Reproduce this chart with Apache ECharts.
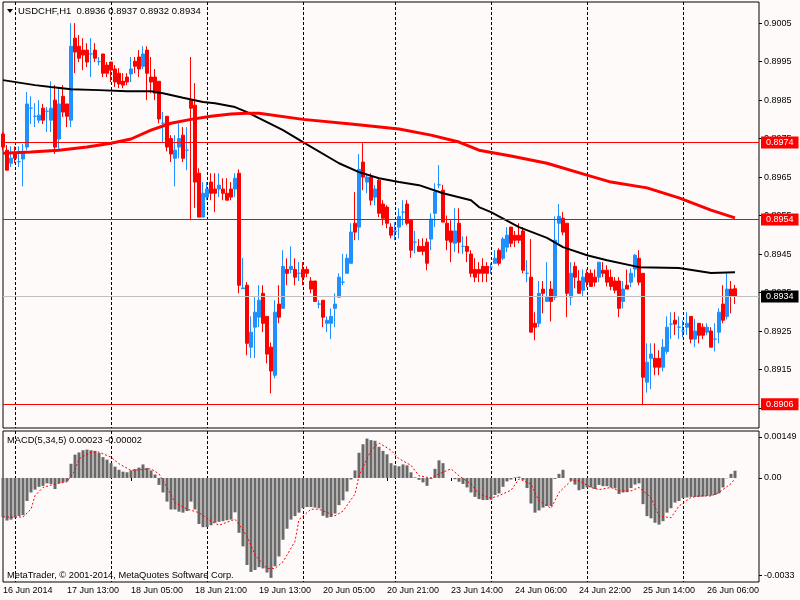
<!DOCTYPE html>
<html>
<head>
<meta charset="utf-8">
<title>USDCHF,H1</title>
<script src="https://cdn.jsdelivr.net/npm/echarts@6.0.0/dist/echarts.min.js"></script>
<style>
html, body { margin: 0; padding: 0; background: #fffafa; }
#main { width: 800px; height: 600px; }
</style>
</head>
<body>
<div id="main"></div>
<script>
var myChart = echarts.init(document.getElementById('main'));

// time axis: one label every 16 bars, dotted day separators
var tickLabels = ['16 Jun 2014', '17 Jun 13:00', '18 Jun 05:00', '18 Jun 21:00', '19 Jun 13:00', '20 Jun 05:00',
    '20 Jun 21:00', '23 Jun 14:00', '24 Jun 06:00', '24 Jun 22:00', '25 Jun 14:00', '26 Jun 06:00'];
var dayLines = [3, 27, 51, 75, 98, 122, 146, 170];

// USDCHF H1 bars
var opens = [
    0.89762, 0.8972, 0.89686, 0.89712, 0.8969, 0.89697, 0.89728, 0.89829, 0.89808, 0.89798,
    0.89829, 0.89821, 0.89798, 0.8985, 0.89749, 0.8986, 0.8984, 0.89798, 0.90011, 0.8999,
    0.8998, 0.8998, 0.8997, 0.8998, 0.8995, 0.8997, 0.89941, 0.89949, 0.89931, 0.8992,
    0.89899, 0.8991, 0.89918, 0.89951, 0.89962, 0.89938, 0.8998, 0.8991, 0.8991, 0.89899,
    0.8979, 0.89808, 0.8975, 0.89699, 0.89728, 0.89759, 0.8972, 0.8985, 0.89837, 0.8966,
    0.89546, 0.89598, 0.89637, 0.89619, 0.89619, 0.89619, 0.89608, 0.89619, 0.89619, 0.8966,
    0.8936, 0.89369, 0.89208, 0.8926, 0.89286, 0.89348, 0.89288, 0.89208, 0.89135, 0.8932,
    0.89309, 0.8941, 0.8941, 0.8941, 0.894, 0.8941, 0.8941, 0.8938, 0.8938, 0.8932,
    0.8933, 0.8927, 0.8927, 0.89309, 0.89338, 0.89377, 0.894, 0.89426, 0.8953, 0.8952,
    0.89689, 0.89637, 0.8965, 0.89598, 0.89642, 0.8958, 0.89572, 0.8952, 0.89508, 0.8952,
    0.89559, 0.8958, 0.89538, 0.89481, 0.8947, 0.8947, 0.89481, 0.89489, 0.89556, 0.8963,
    0.89616, 0.8953, 0.8951, 0.89478, 0.8953, 0.8947, 0.8947, 0.8945, 0.8941, 0.8941,
    0.89418, 0.89418, 0.89416, 0.89426, 0.8946, 0.89439, 0.89468, 0.8952, 0.89499, 0.89499,
    0.8951, 0.894, 0.8939, 0.8927, 0.8927, 0.89359, 0.89327, 0.89359, 0.89338, 0.8953,
    0.89543, 0.8953, 0.89338, 0.89418, 0.8938, 0.89356, 0.894, 0.894, 0.8939, 0.8939,
    0.89408, 0.89408, 0.8939, 0.8938, 0.8938, 0.89327, 0.89369, 0.89377, 0.89411, 0.89439,
    0.894, 0.89117, 0.89179, 0.89179, 0.89179, 0.89156, 0.89197, 0.89268, 0.89278, 0.8926,
    0.8925, 0.8926, 0.89288, 0.89229, 0.8927, 0.8926, 0.89247, 0.8925, 0.89229, 0.89247,
    0.8932, 0.89288, 0.89359, 0.8936
];
var highs = [
    0.89767, 0.89733, 0.8973, 0.8973, 0.8973, 0.89736, 0.89871, 0.8986, 0.89842, 0.8985,
    0.8984, 0.89832, 0.89899, 0.89889, 0.89881, 0.89889, 0.8984, 0.9005, 0.9005, 0.90019,
    0.90011, 0.89998, 0.90011, 0.89998, 0.89962, 0.8997, 0.89949, 0.89949, 0.89941, 0.89933,
    0.8992, 0.8992, 0.89962, 0.89962, 0.8998, 0.8999, 0.8999, 0.89962, 0.89931, 0.89899,
    0.89819, 0.89808, 0.89759, 0.89759, 0.8979, 0.8978, 0.8978, 0.89962, 0.89894, 0.89673,
    0.89637, 0.89637, 0.8966, 0.8966, 0.8966, 0.89647, 0.89647, 0.89637, 0.8966, 0.8967,
    0.8944, 0.89377, 0.89288, 0.89338, 0.89369, 0.89369, 0.89288, 0.8922, 0.8933, 0.89369,
    0.8946, 0.89439, 0.8947, 0.89439, 0.89429, 0.89429, 0.89418, 0.8939, 0.8938, 0.8933,
    0.8933, 0.89288, 0.89309, 0.89348, 0.894, 0.8945, 0.8945, 0.8953, 0.89611, 0.8971,
    0.89738, 0.8966, 0.8966, 0.89629, 0.8965, 0.8959, 0.89577, 0.8953, 0.89533, 0.89569,
    0.8959, 0.8959, 0.8954, 0.8951, 0.89489, 0.89491, 0.89491, 0.89556, 0.89634, 0.89681,
    0.8963, 0.8955, 0.89538, 0.89569, 0.89569, 0.89496, 0.89496, 0.8946, 0.89439, 0.89429,
    0.89439, 0.89429, 0.89426, 0.8946, 0.89465, 0.89494, 0.8952, 0.8952, 0.8951, 0.8953,
    0.8952, 0.89434, 0.89489, 0.89299, 0.8938, 0.8938, 0.89429, 0.8938, 0.89548, 0.8958,
    0.89559, 0.8953, 0.89429, 0.89429, 0.89408, 0.8941, 0.8941, 0.8941, 0.8941, 0.89429,
    0.89429, 0.89421, 0.8941, 0.8939, 0.8939, 0.8938, 0.8941, 0.89413, 0.8945, 0.8946,
    0.894, 0.89218, 0.89218, 0.89218, 0.892, 0.89229, 0.89288, 0.89299, 0.89299, 0.89288,
    0.89278, 0.89299, 0.89288, 0.89281, 0.8927, 0.8927, 0.8927, 0.8926, 0.8927, 0.89309,
    0.89369, 0.894, 0.8938, 0.8937
];
var lows = [
    0.8972, 0.89668, 0.89676, 0.89686, 0.89676, 0.89626, 0.8972, 0.89788, 0.8978, 0.8979,
    0.89788, 0.89767, 0.89767, 0.8971, 0.8972, 0.89806, 0.8978, 0.8978, 0.8992, 0.89949,
    0.89928, 0.89936, 0.8991, 0.89949, 0.8994, 0.8991, 0.8991, 0.89897, 0.89884, 0.89881,
    0.89881, 0.89889, 0.89897, 0.8992, 0.8991, 0.89931, 0.8985, 0.89868, 0.8985, 0.8979,
    0.8974, 0.89717, 0.89689, 0.89626, 0.89699, 0.89689, 0.89668, 0.89538, 0.8957, 0.89546,
    0.89546, 0.8959, 0.8959, 0.89559, 0.89598, 0.8959, 0.8959, 0.8959, 0.89598, 0.89348,
    0.8936, 0.89187, 0.8918, 0.8918, 0.8926, 0.89247, 0.89166, 0.89088, 0.89127, 0.8927,
    0.89309, 0.89369, 0.894, 0.89369, 0.8938, 0.89369, 0.8939, 0.89348, 0.89327, 0.89309,
    0.8926, 0.89247, 0.89229, 0.8926, 0.89338, 0.89369, 0.894, 0.89426, 0.89486, 0.89486,
    0.89616, 0.89608, 0.89577, 0.89577, 0.89546, 0.89525, 0.89517, 0.89491, 0.89486, 0.89491,
    0.89525, 0.89525, 0.8944, 0.89452, 0.89457, 0.89447, 0.89408, 0.8946, 0.8952, 0.89621,
    0.89533, 0.8946, 0.89429, 0.89455, 0.89452, 0.8945, 0.89429, 0.8939, 0.89377, 0.89377,
    0.89377, 0.89377, 0.89398, 0.89426, 0.8942, 0.89434, 0.89455, 0.89468, 0.89468, 0.89478,
    0.894, 0.89377, 0.89247, 0.89226, 0.8926, 0.89296, 0.89327, 0.89275, 0.8933, 0.89478,
    0.89499, 0.89286, 0.89317, 0.89361, 0.89348, 0.8934, 0.89364, 0.89366, 0.89366, 0.89377,
    0.8939, 0.89366, 0.89356, 0.89348, 0.89286, 0.89309, 0.89359, 0.89364, 0.8939, 0.89369,
    0.89057, 0.8909, 0.89099, 0.89135, 0.89135, 0.89145, 0.8919, 0.89229, 0.8924, 0.89229,
    0.89234, 0.8924, 0.89218, 0.89208, 0.89218, 0.89229, 0.89239, 0.89208, 0.89197, 0.89218,
    0.8927, 0.8928, 0.89296, 0.8932
];
var closes = [
    0.89728, 0.89668, 0.89699, 0.89699, 0.8969, 0.89712, 0.8984, 0.89829, 0.89808, 0.89811,
    0.89798, 0.89821, 0.89829, 0.89728, 0.8984, 0.89819, 0.89808, 0.8999, 0.89975, 0.89959,
    0.89967, 0.89949, 0.8997, 0.89959, 0.8995, 0.8992, 0.8992, 0.89928, 0.89897, 0.89892,
    0.89889, 0.89897, 0.89931, 0.89938, 0.89931, 0.8997, 0.8992, 0.89897, 0.89868, 0.89801,
    0.8979, 0.89728, 0.8971, 0.8972, 0.8975, 0.89699, 0.8972, 0.89829, 0.89637, 0.89546,
    0.89608, 0.89619, 0.89608, 0.89608, 0.89629, 0.89608, 0.8959, 0.89598, 0.89647, 0.89369,
    0.89362, 0.89218, 0.89247, 0.89299, 0.8933, 0.8927, 0.8919, 0.89146, 0.89299, 0.89286,
    0.89418, 0.894, 0.89418, 0.8939, 0.894, 0.8939, 0.894, 0.89359, 0.89327, 0.8932,
    0.89286, 0.89278, 0.89288, 0.8932, 0.8939, 0.89377, 0.89439, 0.89507, 0.89507, 0.8967,
    0.8965, 0.8965, 0.8959, 0.89619, 0.89556, 0.89543, 0.8953, 0.89499, 0.8951, 0.89548,
    0.89559, 0.8953, 0.8946, 0.89481, 0.89457, 0.89457, 0.89426, 0.89541, 0.89611, 0.8963,
    0.89533, 0.89486, 0.89481, 0.8951, 0.89481, 0.8947, 0.89457, 0.894, 0.8939, 0.894,
    0.894, 0.894, 0.89416, 0.89439, 0.89426, 0.89489, 0.89499, 0.89478, 0.89486, 0.89486,
    0.89408, 0.894, 0.89247, 0.8926, 0.89348, 0.89348, 0.89338, 0.89327, 0.89486, 0.89548,
    0.89507, 0.89348, 0.894, 0.8939, 0.89348, 0.8939, 0.89377, 0.89366, 0.89377, 0.89429,
    0.894, 0.89377, 0.89366, 0.89356, 0.89309, 0.89359, 0.89359, 0.894, 0.89447, 0.89377,
    0.8913, 0.89169, 0.8919, 0.89156, 0.89156, 0.89208, 0.8926, 0.89268, 0.89268, 0.8926,
    0.8925, 0.8927, 0.89229, 0.8925, 0.89239, 0.89239, 0.8926, 0.89208, 0.89229, 0.89299,
    0.89278, 0.89359, 0.8934, 0.8934
];

// moving averages, read as [bar, value]
var maBlack = [[0, 0.89902], [8, 0.89889], [12, 0.89884], [17, 0.89878], [24, 0.89876], [31, 0.89873],
    [37, 0.89873], [40, 0.89868], [45, 0.89856], [50, 0.89845], [53, 0.89842], [58, 0.89832],
    [61, 0.89819], [64, 0.89803], [70, 0.89772], [75, 0.89741], [84, 0.89686], [89, 0.89663],
    [94, 0.89647], [99, 0.89637], [104, 0.89629], [110, 0.89608], [117, 0.8959], [119, 0.89572],
    [122, 0.89559], [129, 0.8952], [136, 0.89492], [140, 0.89468], [146, 0.89447], [151, 0.89434],
    [159, 0.89416], [169, 0.89414], [177, 0.89401], [183, 0.89403]];
var maRed = [[0, 0.89712], [7, 0.89715], [14, 0.8972], [21, 0.89728], [27, 0.89738], [32, 0.89749],
    [37, 0.89772], [42, 0.8979], [47, 0.898], [52, 0.89808], [57, 0.89814], [61, 0.89816],
    [64, 0.89816], [75, 0.898], [87, 0.89788], [99, 0.89775], [107, 0.89759], [114, 0.89741],
    [119, 0.8972], [127, 0.89705], [136, 0.89686], [146, 0.89655], [152, 0.89637], [161, 0.89622],
    [169, 0.89596], [177, 0.89564], [183, 0.89544]];

// MACD(5,34,5)
var macd = [
    -0.00124, -0.00135, -0.00132, -0.00126, -0.00121, -0.00118, -0.00073, -0.00046, -0.00037, -0.00028,
    -0.00025, -0.00017, -0.00019, -0.00035, -0.00017, -0.00014, -0.00011, 0.00045, 0.00074, 0.00081,
    0.00088, 0.0009, 0.00088, 0.00086, 0.00079, 0.00066, 0.00058, 0.00047, 0.00036, 0.00026,
    0.0002, 0.00018, 0.00024, 0.00028, 0.00033, 0.00043, 0.00032, 0.00024, 0.00011, -0.00022,
    -0.00046, -0.00075, -0.001, -0.001, -0.00107, -0.0011, -0.00105, -0.00075, -0.001, -0.00146,
    -0.00156, -0.00156, -0.0015, -0.00142, -0.00139, -0.00137, -0.00134, -0.00132, -0.00109, -0.00174,
    -0.00217, -0.00276, -0.00298, -0.00292, -0.00283, -0.00287, -0.003, -0.00317, -0.0028, -0.00249,
    -0.00196, -0.00161, -0.00132, -0.00121, -0.0011, -0.00096, -0.00092, -0.00092, -0.00094, -0.00096,
    -0.0012, -0.00126, -0.00124, -0.00113, -0.00086, -0.00071, -0.00043, -0.00005, 0.00024, 0.0008,
    0.00107, 0.00125, 0.0012, 0.00118, 0.00099, 0.00086, 0.00075, 0.00047, 0.0004, 0.00037,
    0.00043, 0.0004, 0.00018, 0.00002, -0.00006, -0.00014, -0.00025, -0.00003, 0.00029, 0.00056,
    0.00047, 0, 0, -0.00004, -0.00012, -0.00019, -0.0003, -0.00046, -0.0006, -0.00067,
    -0.0007, -0.0007, -0.00069, -0.00054, -0.00049, -0.00028, -0.00011, -0.00005, 0.00002, 0.00004,
    -0.00006, -0.00032, -0.00081, -0.0011, -0.00103, -0.00094, -0.00089, -0.00089, -0.00003, 0.00013,
    0.00026, 0, -0.00009, -0.00021, -0.00039, -0.00035, -0.0003, -0.0003, -0.00035, -0.00022,
    -0.00026, -0.00026, -0.0003, -0.00033, -0.00051, -0.00046, -0.00045, -0.00032, -0.00021, -0.00017,
    -0.00083, -0.00121, -0.00128, -0.00142, -0.00148, -0.00137, -0.0011, -0.00096, -0.00078, -0.00073,
    -0.00064, -0.00062, -0.0006, -0.0006, -0.0006, -0.00059, -0.00057, -0.00056, -0.00054, -0.00049,
    -0.0003, -0.00001, 0.00013, 0.00023
];
var signal = [[0, -0.00124], [5, -0.00124], [7, -0.00099], [8, -0.00056], [10, -0.0003], [13, -0.00019],
    [16, -0.00012], [18, 0.00024], [19, 0.00061], [22, 0.00082], [24, 0.00082], [27, 0.00066],
    [29, 0.00045], [32, 0.00024], [34, 0.00026], [37, 0.00029], [39, 0.00013], [41, -0.0003],
    [43, -0.00078], [46, -0.00099], [49, -0.0011], [52, -0.00137], [54, -0.0015], [58, -0.00131],
    [59, -0.00147], [61, -0.00185], [63, -0.00244], [66, -0.00287], [68, -0.00287], [70, -0.00266],
    [73, -0.00201], [74, -0.00132], [77, -0.00099], [79, -0.00099], [83, -0.0012], [85, -0.00105],
    [88, -0.00051], [89, 0.00007], [92, 0.00088], [94, 0.00111], [97, 0.00088], [99, 0.00061],
    [102, 0.0004], [104, 0.00007], [107, 0], [109, 0.00013], [112, 0.00029], [114, 0.00007],
    [117, -0.00019], [119, -0.00051], [122, -0.00064], [124, -0.00056], [127, -0.00039], [129, -0.00003],
    [132, -0.00019], [134, -0.00073], [137, -0.00096], [139, -0.00046], [142, -0.00009], [144, -0.00009],
    [147, -0.0003], [149, -0.00037], [152, -0.0003], [154, -0.00041], [157, -0.00041], [159, -0.0003],
    [162, -0.00062], [164, -0.00121], [167, -0.00126], [169, -0.00089], [172, -0.00062], [174, -0.00057],
    [177, -0.00057], [179, -0.00046], [182, -0.00018], [183, -0.00002]];

// horizontal levels and axis marks
var redLevels = [0.8974, 0.8954, 0.8906];
var bidLevel = 0.8934;
var priceTicks = [0.9005, 0.8995, 0.8985, 0.8975, 0.8965, 0.8955, 0.8945, 0.8935, 0.8925, 0.8915, 0.8905];
// MACD scale runs 0.00149 .. -0.0033; MetaTrader writes the end labels just inside the panel
var macdTickPos = [0.0013, 0, -0.00308];
var macdTickLabels = ['0.00149', '0.00', '-0.0033'];

var slots = 190; // bars plus empty space on the right
var cats = [];
for (var k = 0; k < slots; k++) cats.push(String(k));

var candles = [];
for (var k = 0; k < opens.length; k++) {
    candles.push([opens[k], closes[k], lows[k], highs[k]]);
}

var FONT = 'Liberation Sans, Arial, sans-serif';
var dotted = {color: '#000', width: 1, type: [3, 2]};

function isDayLine(i) {
    return dayLines.indexOf(i) >= 0;
}

var levelLines = redLevels.map(function (v) {
    return {yAxis: v, lineStyle: {color: '#ff0000'}, label: {backgroundColor: '#ff0000', color: '#fff'}};
});
levelLines.push({yAxis: bidLevel, lineStyle: {color: '#c0c0c0'}, label: {backgroundColor: '#000', color: '#fff'}});

var option = {
    backgroundColor: '#fffafa',
    animation: false,
    grid: [
        {left: 3, right: 41, top: 2, height: 426, show: true, borderColor: '#000', borderWidth: 1},
        {left: 3, right: 41, top: 431, height: 151, show: true, borderColor: '#000', borderWidth: 1}
    ],
    xAxis: [
        {
            type: 'category', gridIndex: 0, data: cats, boundaryGap: false,
            axisLine: {show: false}, axisTick: {show: false}, axisLabel: {show: false},
            splitLine: {show: true, interval: isDayLine, lineStyle: dotted}
        },
        {
            type: 'category', gridIndex: 1, data: cats, boundaryGap: false,
            axisLine: {show: false},
            axisTick: {show: true, interval: 15, length: 3, lineStyle: {color: '#000'}},
            axisLabel: {
                show: true, interval: 15, align: 'left', margin: 4, color: '#000',
                fontFamily: FONT, fontSize: 9,
                formatter: function (v, i) { return tickLabels[i / 16] || ''; }
            },
            splitLine: {show: true, interval: isDayLine, lineStyle: dotted}
        }
    ],
    yAxis: [
        {
            type: 'value', gridIndex: 0, position: 'right', min: 0.88998, max: 0.90105,
            axisLine: {show: false},
            axisTick: {show: true, length: 3, customValues: priceTicks, lineStyle: {color: '#000'}},
            axisLabel: {
                customValues: priceTicks, margin: 5, color: '#000', fontFamily: FONT, fontSize: 9,
                formatter: function (v) { return v.toFixed(4); }
            },
            splitLine: {show: false}
        },
        {
            type: 'value', gridIndex: 1, position: 'right', min: -0.0033, max: 0.00149,
            axisLine: {show: false},
            axisTick: {show: true, length: 3, customValues: macdTickPos, lineStyle: {color: '#000'}},
            axisLabel: {
                customValues: macdTickPos, margin: 5, color: '#000', fontFamily: FONT, fontSize: 9,
                formatter: function (v) {
                    var best = 0;
                    for (var j = 1; j < macdTickPos.length; j++) {
                        if (Math.abs(macdTickPos[j] - v) < Math.abs(macdTickPos[best] - v)) best = j;
                    }
                    return macdTickLabels[best];
                }
            },
            splitLine: {show: false}
        }
    ],
    graphic: [
        {type: 'polygon', shape: {points: [[7, 9], [13, 9], [10, 13]]}, style: {fill: '#000'}},
        {type: 'text', x: 18, y: 11, style: {text: 'USDCHF,H1  0.8936 0.8937 0.8932 0.8934',
            font: '9.5px ' + FONT, fill: '#000', verticalAlign: 'middle'}},
        {type: 'text', x: 7, y: 440, style: {text: 'MACD(5,34,5) 0.00023 -0.00002',
            font: '9.3px ' + FONT, fill: '#000', verticalAlign: 'middle'}},
        {type: 'text', x: 7, y: 575, style: {text: 'MetaTrader, \u00a9 2001-2014, MetaQuotes Software Corp.',
            font: '9.3px ' + FONT, fill: '#000', verticalAlign: 'middle'}}
    ],
    series: [
        {
            name: 'USDCHF', type: 'candlestick', xAxisIndex: 0, yAxisIndex: 0,
            data: candles, barWidth: 3, clip: false, z: 2,
            itemStyle: {
                color: '#1e90ff', color0: '#ff0000',
                borderColor: '#1e90ff', borderColor0: '#ff0000', borderColorDoji: '#1e90ff',
                borderWidth: 1
            },
            markLine: {
                silent: true, symbol: ['none', 'none'], z: 5, precision: 4,
                lineStyle: {type: 'solid', width: 1},
                label: {
                    position: 'end', distance: 2, fontFamily: FONT, fontSize: 9,
                    padding: [2, 5, 1, 5],
                    formatter: function (p) { return Number(p.value).toFixed(4); }
                },
                data: levelLines
            }
        },
        {
            name: 'MA black', type: 'line', xAxisIndex: 0, yAxisIndex: 0, data: maBlack,
            symbol: 'none', z: 3, lineStyle: {color: '#000', width: 2}
        },
        {
            name: 'MA red', type: 'line', xAxisIndex: 0, yAxisIndex: 0, data: maRed,
            symbol: 'none', z: 3, lineStyle: {color: '#ff0000', width: 3}
        },
        {
            name: 'MACD', type: 'bar', xAxisIndex: 1, yAxisIndex: 1, data: macd,
            barWidth: 3, itemStyle: {color: '#696969'}
        },
        {
            name: 'Signal', type: 'line', xAxisIndex: 1, yAxisIndex: 1, data: signal,
            symbol: 'none', z: 3, lineStyle: {color: '#ff0000', width: 1, type: [2, 2]}
        }
    ]
};

if (option && typeof option === "object") {
    myChart.setOption(option, true);
}
</script>
</body>
</html>
